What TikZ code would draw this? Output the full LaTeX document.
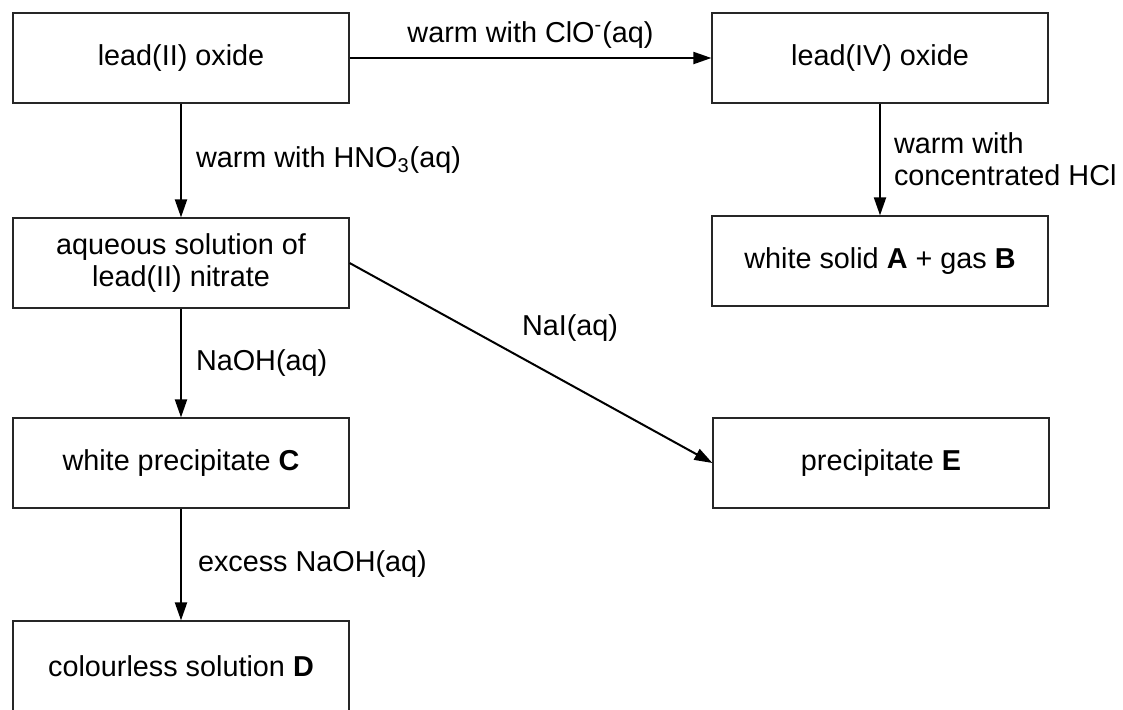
\documentclass[tikz,border=0pt]{standalone}
\usepackage{fontspec}
\setmainfont{Liberation Sans}
\usetikzlibrary{positioning,arrows.meta}

\begin{document}
\begin{tikzpicture}[x=0.5pt,y=-0.5pt,
    stage/.style={rectangle,draw=black!85,line width=0.6pt,
		minimum width=168pt,minimum height=45pt,align=center,
		font=\fontsize{14.4}{16}\selectfont},
% reagent labels
    reagent/.style={inner sep=0pt,align=left,
		font=\fontsize{14.4}{16}\selectfont},
    flow/.style={line width=1pt,-{Triangle[length=9pt,width=6pt]}},
    node distance=100pt,on grid
    ]
   \useasboundingbox (0,0) rectangle (1123,709);
%%% left column
   \node [stage] (pbo) at (181,58) {lead(II) oxide};
   \node [stage] (nitrate) [below=102.5pt of pbo] {aqueous solution of\\lead(II) nitrate};
   \node [stage] (precC) [below=100pt of nitrate] {white precipitate \textbf{C}};
   \node [stage] (solD) [below=101.5pt of precC] {colourless solution \textbf{D}};
%%% right column
   \node [stage] (pbo2) [right=349.5pt of pbo] {lead(IV) oxide};
   \node [stage] (solidAB) [below=101.5pt of pbo2] {white solid \textbf{A} + gas \textbf{B}};
   \node [stage] (precE) [right=350pt of precC] {precipitate \textbf{E}};

   \draw[flow] (pbo) -- (pbo2)
       node [reagent,midway,above=4.5pt] {warm with ClO\textsuperscript{-}(aq)};
   \draw[flow] (pbo) -- (nitrate)
       node [reagent,midway,anchor=west,xshift=7pt] {warm with HNO\textsubscript{3}(aq)};
   \draw[flow] (pbo2) -- (solidAB)
       node [reagent,midway,anchor=west,xshift=6.5pt] {warm with\\concentrated HCl};
   \draw[flow] (nitrate) -- (precC)
       node [reagent,midway,anchor=west,xshift=7pt] {NaOH(aq)};
   \draw[flow] (precC) -- (solD)
       node [reagent,midway,anchor=west,xshift=8pt] {excess NaOH(aq)};
   \draw[flow] (nitrate.east) -- (precE.west)
       node [reagent,midway,anchor=south west,xshift=-5pt,yshift=10.5pt] {NaI(aq)};
\end{tikzpicture}
\end{document}
